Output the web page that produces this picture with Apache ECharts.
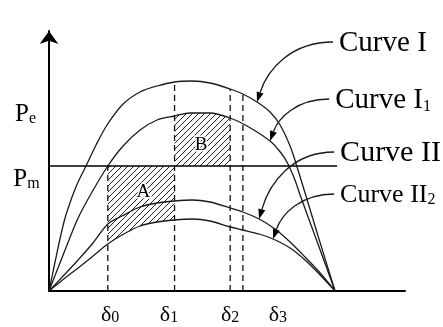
<!DOCTYPE html>
<html><head><meta charset="utf-8">
<script src="https://cdn.jsdelivr.net/npm/echarts@6/dist/echarts.min.js"></script>
<style>html,body{margin:0;padding:0;background:#fff}#c{width:443px;height:327px}</style>
</head><body><div id="c"></div>
<script>
// ---- data (δ in degrees, P in arbitrary power units) ----
const pm = 1.25;
const deltaSubs = ['0', '1', '2', '3'];
const deltaValues = [37, 79, 114, 122];
const deltaLabelAt = [38.5, 75.5, 114, 144];

const curveI = [[0,0],[3.8,0.29],[6.9,0.52],[10.1,0.73],[14.5,0.94],[18.3,1.09],[23.3,1.25],[29.6,1.46],[36.5,1.66],[46.6,1.87],[57.3,1.99],[68,2.05],[79,2.09],[90,2.10],[101.3,2.08],[114,2.02],[122,1.97],[130.9,1.89],[139.1,1.79],[145.4,1.66],[151.7,1.45],[155.5,1.27],[161.7,0.95],[169.3,0.55],[180,0]];
const curveI1 = [[0,0],[10.1,0.41],[18.3,0.73],[27.1,0.99],[37,1.25],[46.6,1.45],[57.3,1.61],[68,1.71],[79,1.75],[88.7,1.78],[101.3,1.78],[114,1.73],[124.6,1.65],[139.1,1.50],[146,1.38],[150.4,1.27],[155,1.10],[158,0.96],[167.4,0.55],[180,0]];
const curveII = [[0,0],[10.1,0.17],[18.3,0.31],[27.7,0.48],[37,0.67],[45.9,0.75],[57.3,0.84],[68,0.88],[79,0.90],[90,0.91],[101.3,0.89],[114,0.83],[122,0.79],[132.2,0.72],[142.2,0.62],[151.7,0.49],[161.1,0.34],[170.6,0.18],[180,0]];
const curveII2 = [[0,0],[10.1,0.13],[18.3,0.23],[27.7,0.35],[37,0.47],[45.9,0.56],[57.3,0.65],[68,0.69],[79,0.71],[90,0.72],[101.3,0.70],[114,0.64],[122,0.61],[132.2,0.57],[141,0.52],[151.7,0.43],[161.1,0.31],[170.6,0.16],[180,0]];

const curveMain = ['Curve I', 'Curve I', 'Curve II', 'Curve II'];
const curveSub = ['', '1', '', '2'];
const curveTipAt = [130.9, 139.1, 132.2, 141];
const curveLabelAnchor = [[178.7, 2.49], [176.3, 1.92], [179.4, 1.39], [179.4, 0.97]];

const areaNames = ['A', 'B'];
const areaLabelAt = [[59.4, 0.99], [95.7, 1.46]];
const axisTitleMain = ['P', 'P'];
const axisTitleSub = ['e', 'm'];
const axisTitleAt = [[-21.4, 1.766], [-22.5, 1.113]];

// ---- helpers / styles ----
const FONT = '"Liberation Serif", "Times New Roman", serif';
const curveFontSize = [29, 29, 30, 26];
const curves = [curveI, curveI1, curveII, curveII2];
function valueAt(curve, x) { const p = curve.find(q => q[0] === x); return p ? p[1] : 0; }

function hatchPattern() {
  const s = 6, c = document.createElement('canvas');
  c.width = s; c.height = s;
  const g = c.getContext('2d');
  g.strokeStyle = '#222'; g.lineWidth = 1;
  g.beginPath();
  g.moveTo(0, s); g.lineTo(s, 0);
  g.moveTo(-1, 1); g.lineTo(1, -1);
  g.moveTo(s - 1, s + 1); g.lineTo(s + 1, s - 1);
  g.stroke();
  return c;
}
const pattern = { image: hatchPattern(), repeat: 'repeat' };

const hatchA = curveII2.filter(p => p[0] >= deltaValues[0] && p[0] <= deltaValues[1]);
const hatchB = curveI1.filter(p => p[0] >= deltaValues[1] && p[0] <= deltaValues[2]);
const SMOOTH = 0.3;

const series = [];
[hatchA, hatchB].forEach(d => series.push({
  type: 'line', data: d, smooth: SMOOTH, symbol: 'none', silent: true, z: 1,
  lineStyle: { width: 0 },
  areaStyle: { origin: pm, color: pattern, opacity: 1 }
}));
curves.forEach(d => series.push({
  type: 'line', data: d, smooth: SMOOTH, symbol: 'none', silent: true, z: 3,
  lineStyle: { color: '#1a1a1a', width: 1.3 }
}));
// Pm line
series.push({
  type: 'line', data: [[-25.8, pm], [181.3, pm]], symbol: 'none', clip: false, z: 4,
  lineStyle: { color: '#000', width: 1.6 }
});
// dashed δ lines
deltaValues.forEach((dv, i) => {
  const top = i === 0 ? pm : valueAt(curveI, dv);
  series.push({
    type: 'line', data: [[dv, 0], [dv, top]], symbol: 'none', z: 2,
    lineStyle: { color: '#111', width: 1.3, type: [6, 4] }
  });
});
// curve annotations (leader + arrow + label)
series.push({
  type: 'custom', coordinateSystem: 'cartesian2d', clip: false, z: 5,
  data: curves.map((c, k) => [curveLabelAnchor[k][0], curveLabelAnchor[k][1], curveTipAt[k], valueAt(c, curveTipAt[k]), k]),
  renderItem: (params, api) => {
    const k = api.value(4);
    const s = api.coord([api.value(0), api.value(1)]);
    const t = api.coord([api.value(2), api.value(3)]);
    const dx = t[0] - s[0], dy = t[1] - s[1];
    const c1 = [s[0] + dx * 0.55, s[1]];
    const c2 = [t[0] - dx * 0.14, t[1] - dy * 0.55];
    let ux = t[0] - c2[0], uy = t[1] - c2[1];
    const len = Math.hypot(ux, uy); ux /= len; uy /= len;
    const L = 10, W = 3.6;
    const b = [t[0] - ux * L, t[1] - uy * L];
    const head = [t, [b[0] - uy * W, b[1] + ux * W], [b[0] + uy * W, b[1] - ux * W]];
    const txt = curveSub[k] ? '{n|' + curveMain[k] + '}{s|' + curveSub[k] + '}' : '{n|' + curveMain[k] + '}';
    const fs = curveFontSize[k];
    return { type: 'group', children: [
      { type: 'bezierCurve', shape: { x1: s[0], y1: s[1], cpx1: c1[0], cpy1: c1[1], cpx2: c2[0], cpy2: c2[1], x2: b[0], y2: b[1] },
        style: { stroke: '#1a1a1a', lineWidth: 1.3, fill: null } },
      { type: 'polygon', shape: { points: head }, style: { fill: '#000' } },
      { type: 'text', x: s[0] + 6, y: s[1] + 1, style: {
          text: txt, align: 'left', verticalAlign: 'middle', fill: '#000',
          rich: { n: { fontFamily: FONT, fontSize: fs, lineHeight: fs, fill: '#000' },
                  s: { fontFamily: FONT, fontSize: 16, lineHeight: 16, verticalAlign: 'bottom', fill: '#000' } } } }
    ] };
  }
});
// area letters
series.push({
  type: 'custom', coordinateSystem: 'cartesian2d', clip: false, z: 6,
  data: areaLabelAt.map((p, i) => [p[0], p[1], i]),
  renderItem: (params, api) => {
    const p = api.coord([api.value(0), api.value(1)]);
    return { type: 'text', x: p[0], y: p[1], style: {
      text: areaNames[api.value(2)], align: 'center', verticalAlign: 'middle',
      fontFamily: FONT, fontSize: 19, fill: '#000', stroke: '#fff', lineWidth: 3 } };
  }
});
// axis titles
series.push({
  type: 'custom', coordinateSystem: 'cartesian2d', clip: false, z: 6,
  data: axisTitleAt.map((p, i) => [p[0], p[1], i]),
  renderItem: (params, api) => {
    const i = api.value(2);
    const p = api.coord([api.value(0), api.value(1)]);
    return { type: 'text', x: p[0], y: p[1], style: {
      text: '{p|' + axisTitleMain[i] + '}{s|' + axisTitleSub[i] + '}', align: 'left', verticalAlign: 'middle', fill: '#000',
      rich: { p: { fontFamily: FONT, fontSize: 25, lineHeight: 25, fill: '#000' },
              s: { fontFamily: FONT, fontSize: 16, lineHeight: 12, verticalAlign: 'bottom', fill: '#000' } } } };
  }
});

const chart = echarts.init(document.getElementById('c'), null, { renderer: 'canvas' });
chart.setOption({
  animation: false,
  backgroundColor: '#fff',
  grid: { left: 49, right: 38, top: 31, bottom: 36 },
  xAxis: {
    type: 'value', min: 0, max: 224,
    axisLine: { show: true, onZero: false, lineStyle: { color: '#000', width: 2 } },
    axisTick: { show: false }, splitLine: { show: false },
    axisLabel: {
      customValues: deltaLabelAt, margin: 13,
      formatter: v => '{d|δ}{s|' + deltaSubs[deltaLabelAt.indexOf(v)] + '}',
      rich: { d: { fontFamily: FONT, fontSize: 22, lineHeight: 22, color: '#000' },
              s: { fontFamily: FONT, fontSize: 16, lineHeight: 12, verticalAlign: 'bottom', color: '#000' } }
    }
  },
  yAxis: {
    type: 'value', min: 0, max: 2.6,
    axisLine: { show: true, onZero: false, symbol: ['none', 'arrow'], symbolSize: [14, 13], lineStyle: { color: '#000', width: 2 } },
    axisTick: { show: false }, splitLine: { show: false }, axisLabel: { show: false }
  },
  series: series
});
</script></body></html>
